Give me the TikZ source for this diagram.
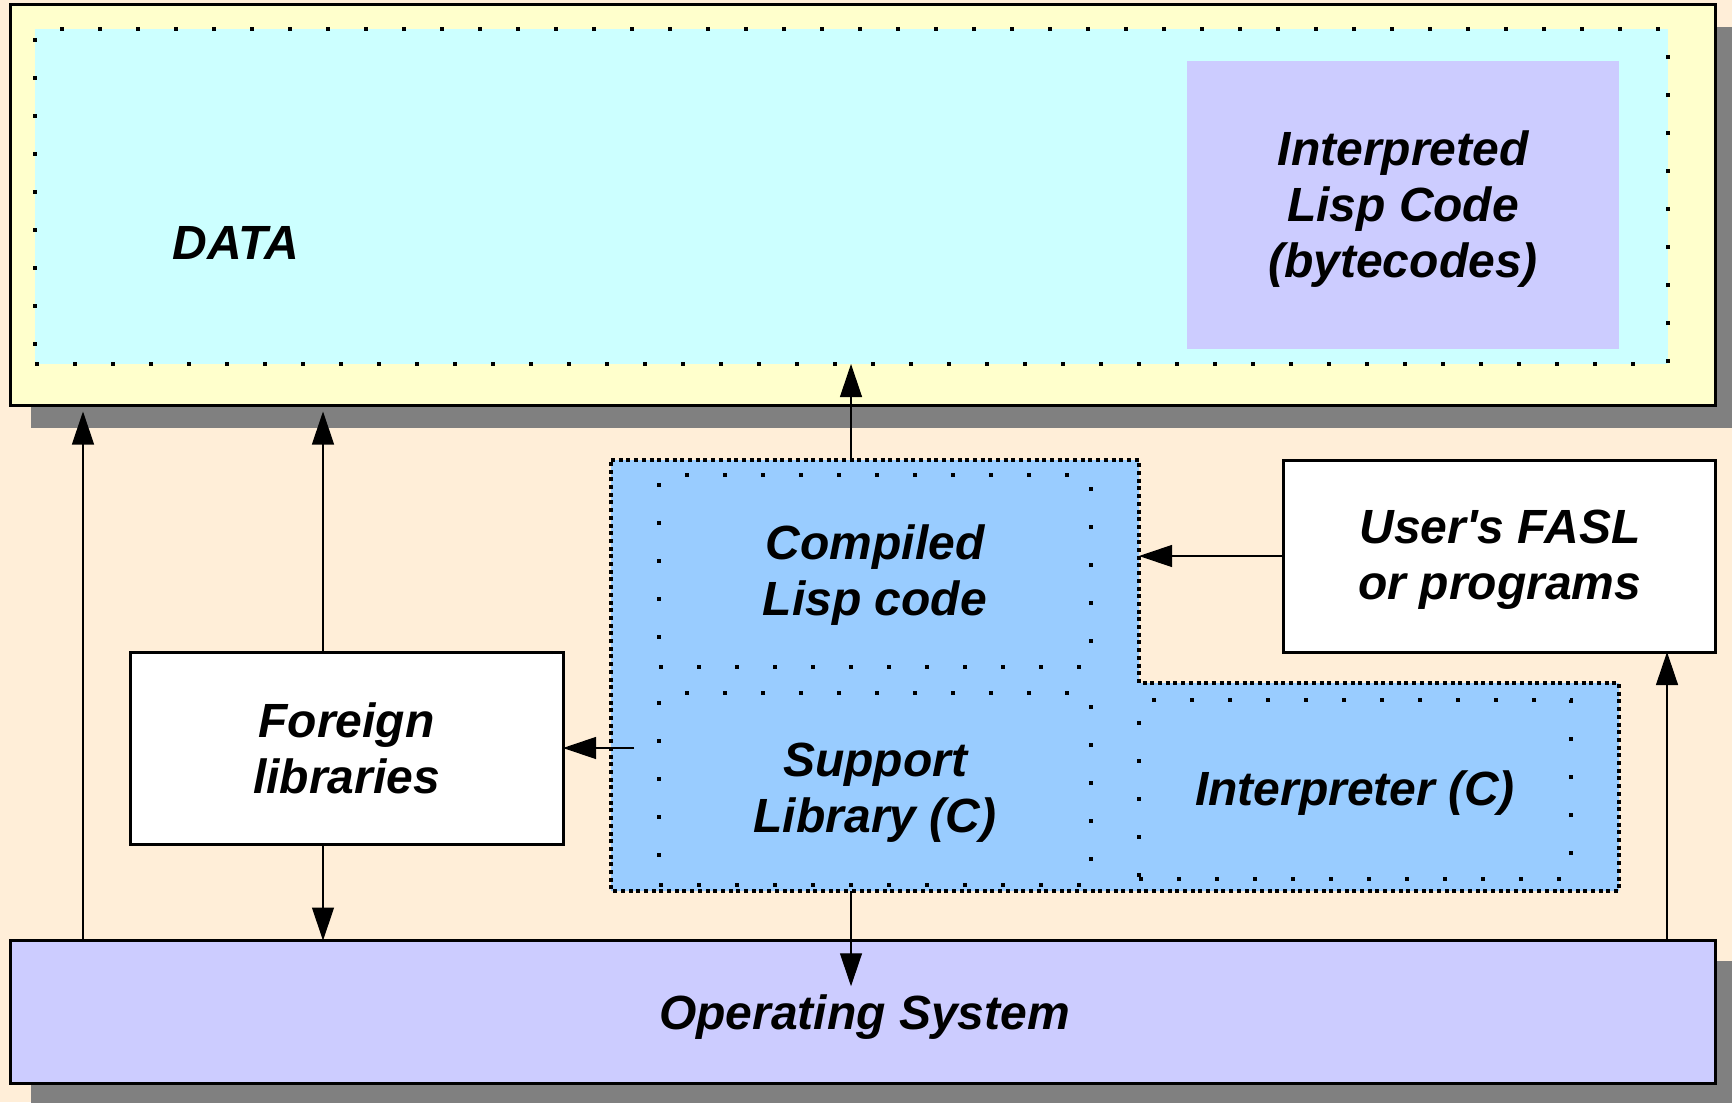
\documentclass[tikz,border=0pt]{standalone}
\usepackage{fontspec}
\setmainfont{Liberation Sans}[Ligatures=TeXOff]
\usetikzlibrary{arrows.meta,fit,calc}

\definecolor{pagebg}{HTML}{FFEED8}
\definecolor{shadowgray}{HTML}{808080}
\definecolor{memyellow}{HTML}{FFFFCC}
\definecolor{datacyan}{HTML}{CCFFFF}
\definecolor{bytelav}{HTML}{CCCCFF}
\definecolor{codeblue}{HTML}{99CCFF}
\definecolor{oslav}{HTML}{CCCCFF}

\begin{document}
\begin{tikzpicture}[x=0.5pt,y=-0.5pt,
  lbl/.style={font=\fontsize{24pt}{28pt}\selectfont\bfseries\itshape, align=center, text=black, inner sep=0pt, yshift=-2pt},
  tight/.style={inner sep=0pt, outer sep=0pt},
  heavy/.style={draw=black, line width=1.5pt},
  dotframe/.style={draw=black, line width=2pt, dash pattern=on 2pt off 17pt},
  dotedge/.style={draw=black, line width=2pt, dash pattern=on 2pt off 1.85pt},
  conn/.style={draw=black, line width=0.6pt, -{Triangle[length=16.5pt,width=11pt]}},
]
\useasboundingbox (0,0) rectangle (1732,1102);
\clip (0,0) rectangle (1732,1102);
\fill[pagebg] (0,0) rectangle (1732,1102);

% drop shadows of the memory and OS blocks
\fill[shadowgray] (31,27) rectangle (1740,428);
\fill[shadowgray] (31,961) rectangle (1740,1110);

% memory image
\node[fit={(10,5) (1715,405)}, tight, heavy, fill=memyellow] (memory) {};
\node[fit={(35,29) (1668,364)}, tight, fill=datacyan, dotframe] (data) {};
\node[lbl] (datalabel) at (236,239) {DATA};
\node[fit={(1187,61) (1619,349)}, tight, fill=bytelav] (bytecode) {};
\node[lbl] (bytecodelabel) at (bytecode.center) {Interpreted\\Lisp Code\\(bytecodes)};

% ECL core: compiled code on top of the C runtime
\path[fill=codeblue, dotedge] (611,460) -- (1139,460) -- (1139,683) -- (1619,683)
  -- (1619,891) -- (611,891) -- cycle;
\node[fit={(611,460) (1139,683)}, tight] (compiledarea) {};
\node[fit={(611,683) (1619,891)}, tight] (runtimearea) {};
\node[fit={(659,475) (1091,667)}, tight, dotframe] (compiled) {};
\node[fit={(659,693) (1091,885)}, tight, dotframe] (support) {};
\node[fit={(1139,700) (1571,879)}, tight, dotframe] (interp) {};
\node[lbl] (compiledlabel) at (compiled.center) {Compiled\\Lisp code};
\node[lbl] (supportlabel) at (support.center) {Support\\Library (C)};
\node[lbl] (interplabel) at (interp.center) {Interpreter (C)};

% side blocks
\node[fit={(130,652) (563,844)}, tight, heavy, fill=white] (foreign) {};
\node[lbl] (foreignlabel) at ($(foreign.center)+(0,-4)$) {Foreign\\libraries};
\node[fit={(1283,460) (1715,652)}, tight, heavy, fill=white] (fasl) {};
\node[lbl] (fasllabel) at ($(fasl.center)+(1,0)$) {User's FASL\\or programs};

% operating system
\node[fit={(10,940.5) (1715,1083)}, tight, heavy, fill=oslav] (os) {};

% connectors
\coordinate (xleft) at (83,0);
\coordinate (xlib) at (323,0);
\coordinate (xcore) at (851,0);
\coordinate (xuser) at (1667,0);
\coordinate (suptail) at (634,748);

\draw[conn, shorten >=3.25pt] (os.north -| xleft) -- (memory.south -| xleft);
\draw[conn, shorten >=3.25pt] (foreign.north -| xlib) -- (memory.south -| xlib);
\draw[conn] (foreign.south -| xlib) -- (os.north -| xlib);
\draw[conn] (compiledarea.north -| xcore) -- (data.south -| xcore);
\draw[conn, shorten >=12.75pt] (runtimearea.south -| xcore) -- (os.center -| xcore);
\draw[conn] (suptail) -- (foreign.east |- suptail);
\draw[conn] (fasl.west) -- (compiledarea.east |- fasl.west);
\draw[conn] (os.north -| xuser) -- (fasl.south -| xuser);

\node[lbl] (oslabel) at ($(os.center)+(2,1)$) {Operating System};
\end{tikzpicture}
\end{document}
